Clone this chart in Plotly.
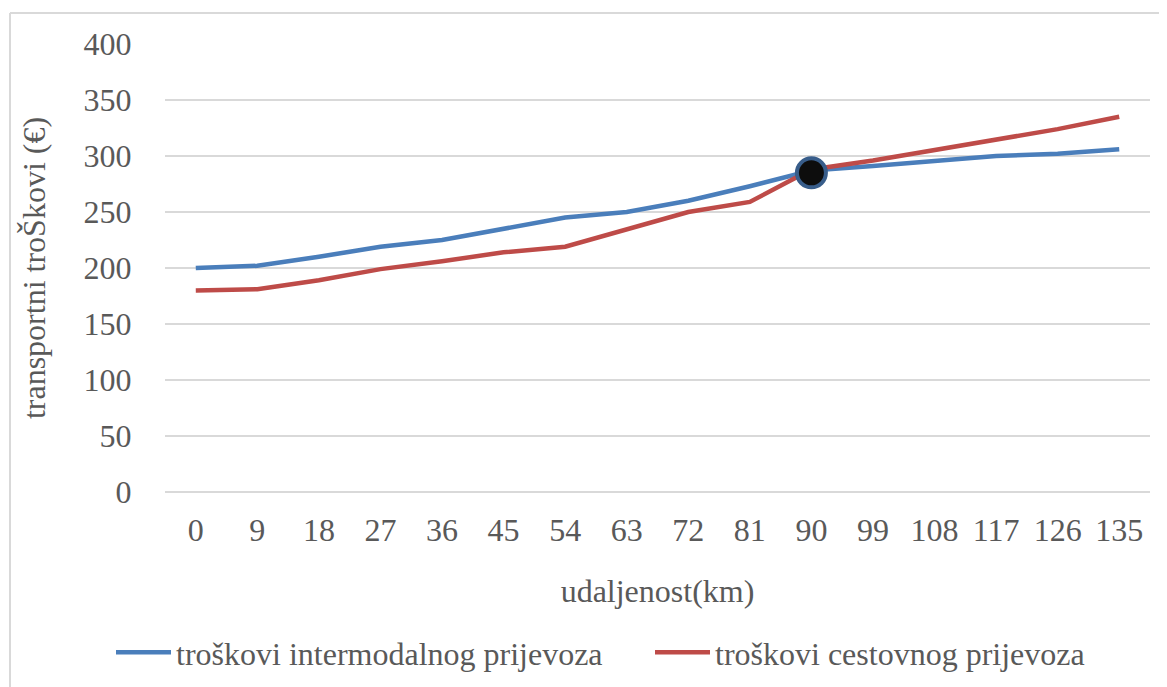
import plotly.graph_objects as go

distance_km = [0, 9, 18, 27, 36, 45, 54, 63, 72, 81, 90, 99, 108, 117, 126, 135]
intermodal_cost = [200, 202, 210, 219, 225, 235, 245, 250, 260, 273, 287, 291, 296, 300, 302, 306]
road_cost = [180, 181, 189, 199, 206, 214, 219, 235, 250, 259, 288, 296, 305, 314, 324, 335]
crossing_km = [90]
crossing_cost = [285]
y_ticks = [0, 50, 100, 150, 200, 250, 300, 350, 400]

x_labels = [str(v) for v in distance_km]
font_family = "Liberation Serif"
gray = "#595959"
fs = 32

fig = go.Figure()
fig.add_trace(go.Scatter(
    x=x_labels, y=intermodal_cost, mode="lines",
    name="troškovi intermodalnog prijevoza",
    line=dict(color="#4A7EBB", width=4.5),
))
fig.add_trace(go.Scatter(
    x=x_labels, y=road_cost, mode="lines",
    name="troškovi cestovnog prijevoza",
    line=dict(color="#BE4B48", width=4.5),
))
fig.add_trace(go.Scatter(
    x=[str(v) for v in crossing_km], y=crossing_cost, mode="markers",
    showlegend=False,
    marker=dict(size=29, color="#0d0d0d", line=dict(color="#385D8A", width=4)),
))

fig.update_layout(
    width=1159, height=679,
    margin=dict(l=157, r=17, t=36, b=195, autoexpand=False),
    paper_bgcolor="white", plot_bgcolor="white",
    font=dict(family=font_family, size=fs, color=gray),
    showlegend=True,
    legend=dict(orientation="h", x=(111 - 165) / 985, xanchor="left", y=-0.297, yanchor="top",
                font=dict(family=font_family, size=fs, color=gray), itemwidth=55,
                entrywidth=469, entrywidthmode="pixels", tracegroupgap=0),
    xaxis=dict(
        type="category", range=[-0.5, 15.5],
        showgrid=False, showline=False, zeroline=False,
        ticks="outside", ticklen=10, tickcolor="rgba(0,0,0,0)",
        tickfont=dict(family=font_family, size=fs, color=gray),
        title=dict(text="udaljenost(km)", font=dict(family=font_family, size=fs, color=gray), standoff=32),
    ),
    yaxis=dict(
        range=[0, 400], tickvals=y_ticks,
        showgrid=True, gridcolor="#D9D9D9", gridwidth=1.5,
        showline=False, zeroline=True, zerolinecolor="#D9D9D9", zerolinewidth=1.5,
        ticks="outside", ticklen=26, tickcolor="rgba(0,0,0,0)",
        tickfont=dict(family=font_family, size=fs, color=gray),
        title=dict(text="transportni troŠkovi (€)", font=dict(family=font_family, size=fs, color=gray), standoff=28),
    ),
    shapes=[
        dict(type="line", xref="paper", yref="paper",
             x0=(10 - 165) / 985, x1=1.1, y0=(492 - 13) / 448, y1=(492 - 13) / 448,
             line=dict(color="#D9D9D9", width=2)),
        dict(type="line", xref="paper", yref="paper",
             x0=(10 - 165) / 985, x1=(10 - 165) / 985, y0=(492 - 13) / 448, y1=-0.5,
             line=dict(color="#D9D9D9", width=2)),
    ],
)

fig.write_html("out.html")
